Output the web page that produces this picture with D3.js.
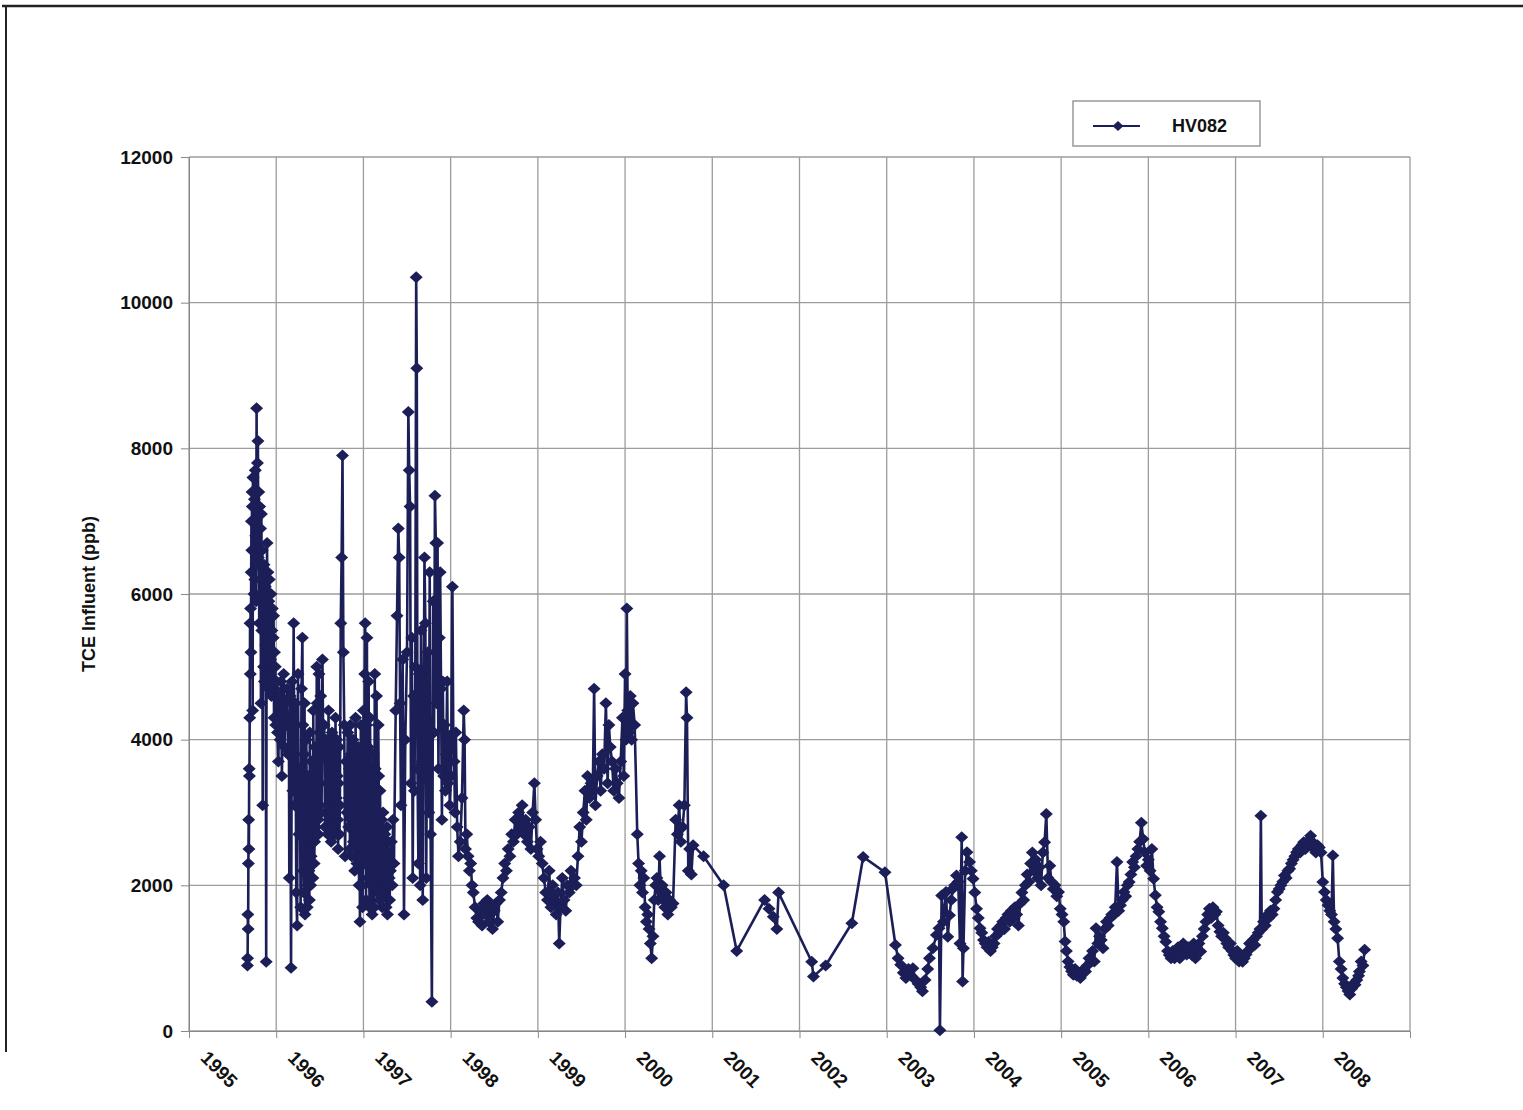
<!DOCTYPE html>
<html><head><meta charset="utf-8">
<script src="https://cdn.jsdelivr.net/npm/d3@7"></script>
<style>
body{margin:0;background:#fff;}
svg{display:block;font-family:"Liberation Sans",Arial,sans-serif;}
</style>
</head><body>
<svg id="chart" width="1523" height="1110"></svg>
<script>
const yearTicks = [1995,1996,1997,1998,1999,2000,2001,2002,2003,2004,2005,2006,2007,2008];
const valueTicks = [0,2000,4000,6000,8000,10000,12000];
const seriesName = "HV082";
const yAxisTitle = "TCE Influent (ppb)";

// [decimal year, TCE ppb]
const hv082 = [
[1995.670,900],[1995.672,1000],[1995.675,1600],[1995.678,1400],[1995.681,2300],[1995.684,2900],[1995.687,2500],[1995.690,3600],[1995.693,3500],[1995.696,4300],[1995.700,5600],[1995.703,4900],[1995.706,5800],[1995.710,5200],[1995.713,6300],[1995.716,7000],[1995.720,6600],[1995.723,7400],[1995.726,7200],[1995.730,4400],[1995.733,7600],[1995.740,7000],[1995.745,6000],[1995.750,7300],[1995.755,6200],[1995.760,7700],[1995.765,6800],[1995.770,5900],[1995.775,8550],[1995.780,6400],[1995.785,7800],[1995.790,8100],[1995.795,6500],[1995.800,7400],[1995.805,5600],[1995.810,7200],[1995.815,6000],[1995.820,6900],[1995.825,4500],[1995.830,7100],[1995.835,5500],[1995.840,6600],[1995.845,3100],[1995.850,6200],[1995.855,5000],[1995.860,6400],[1995.865,4800],[1995.870,5900],[1995.875,6100],[1995.880,5300],[1995.885,950],[1995.890,5700],[1995.895,6700],[1995.900,5200],[1995.905,6300],[1995.910,4700],[1995.915,5900],[1995.920,6200],[1995.925,4900],[1995.930,5800],[1995.935,5100],[1995.940,6000],[1995.945,4600],[1995.950,5500],[1995.955,5800],[1995.960,4800],[1995.965,5400],[1995.970,5700],[1995.975,4300],[1995.980,5200],[1995.985,4700],[1995.990,5000],[1995.995,4200],
[1996.005,4800],[1996.015,4100],[1996.025,3700],[1996.035,4600],[1996.045,4000],[1996.055,4800],[1996.065,3500],[1996.075,4400],[1996.085,4900],[1996.095,3900],[1996.105,4500],[1996.115,4200],[1996.125,4700],[1996.135,3800],[1996.145,4300],[1996.150,2100],[1996.160,4600],[1996.170,870],[1996.180,4800],[1996.190,3300],[1996.200,5600],[1996.210,3100],[1996.220,4500],[1996.230,1900],[1996.240,1450],[1996.250,4900],[1996.260,2700],[1996.270,3600],[1996.280,1700],[1996.290,4700],[1996.300,5400],[1996.310,2200],[1996.320,3800],[1996.330,1600],[1996.340,2500],[1996.350,3200],[1996.360,2000],[1996.370,2700],[1996.380,1800],[1996.390,3100],[1996.400,2400],[1996.410,2900],[1996.420,2100],[1996.430,3300],[1996.440,2600],[1996.450,3500],[1996.460,3200],[1996.470,4500],[1996.480,2900],[1996.490,4900],[1996.500,3100],[1996.510,4600],[1996.520,3000],[1996.530,5100],[1996.540,3800],[1996.550,4200],[1996.560,2800],[1996.570,4000],[1996.580,3400],[1996.590,2700],[1996.600,4400],[1996.610,3100],[1996.620,3700],[1996.630,2600],[1996.640,4100],[1996.650,3300],[1996.660,3600],[1996.670,2900],[1996.680,4300],[1996.690,3200],[1996.700,3500],[1996.710,2500],[1996.720,3900],[1996.730,3100],[1996.740,5600],[1996.750,6500],[1996.760,7900],[1996.770,5200],[1996.780,4200],[1996.790,2400],[1996.800,3700],[1996.810,3000],[1996.820,4100],[1996.830,2800],[1996.840,3600],[1996.850,4200],[1996.860,2900],[1996.870,3400],[1996.880,4000],[1996.890,3200],[1996.900,2200],[1996.910,4300],[1996.920,3500],[1996.930,2600],[1996.940,3900],[1996.950,2000],[1996.960,1500],[1996.970,4200],[1996.980,2500],[1996.990,1700],
[1997.000,4400],[1997.010,2300],[1997.020,5600],[1997.030,1800],[1997.040,5400],[1997.050,2100],[1997.060,4800],[1997.070,1700],[1997.080,3600],[1997.090,2400],[1997.100,1600],[1997.110,3800],[1997.120,2000],[1997.130,4900],[1997.140,2600],[1997.150,4600],[1997.160,1900],[1997.170,4200],[1997.180,2200],[1997.190,3300],[1997.200,1800],[1997.210,2900],[1997.220,2100],[1997.230,2500],[1997.240,1900],[1997.250,2300],[1997.260,1700],[1997.270,2800],[1997.280,2000],[1997.290,2400],[1997.300,1800],[1997.310,2200],[1997.320,2600],[1997.330,2000],[1997.340,2900],[1997.350,2300],[1997.370,4400],[1997.385,5700],[1997.400,6900],[1997.410,6500],[1997.420,4500],[1997.430,3100],[1997.450,5100],[1997.465,1600],[1997.480,4000],[1997.500,5200],[1997.515,8500],[1997.525,7700],[1997.535,7200],[1997.545,3400],[1997.555,5400],[1997.565,2100],[1997.575,4600],[1997.585,3300],[1997.595,5000],[1997.605,10350],[1997.612,9100],[1997.620,3600],[1997.630,2300],[1997.640,4900],[1997.650,2000],[1997.660,5500],[1997.670,3700],[1997.680,1800],[1997.690,4400],[1997.700,6500],[1997.710,5600],[1997.720,2100],[1997.730,4300],[1997.740,5200],[1997.750,3000],[1997.760,6300],[1997.770,2700],[1997.785,400],[1997.800,5900],[1997.810,4100],[1997.820,7350],[1997.830,6700],[1997.840,4500],[1997.850,6700],[1997.860,3600],[1997.870,5400],[1997.880,6300],[1997.890,4700],[1997.900,2900],[1997.910,4800],[1997.920,3500],[1997.930,4200],[1997.940,3300],[1997.950,3800],[1997.960,4800],[1997.970,3400],[1997.980,4000],[1997.990,3100],
[1998.005,3500],[1998.020,6100],[1998.030,4100],[1998.040,3700],[1998.050,3000],[1998.060,4100],[1998.075,2800],[1998.090,2400],[1998.110,2600],[1998.130,3200],[1998.150,4400],[1998.160,4000],[1998.170,2500],[1998.185,2700],[1998.200,2400],[1998.215,2200],[1998.230,2300],[1998.245,2000],[1998.260,1900],[1998.280,1700],[1998.300,1550],[1998.320,1500],[1998.340,1650],[1998.360,1450],[1998.380,1750],[1998.400,1600],[1998.420,1800],[1998.440,1500],[1998.460,1700],[1998.480,1400],[1998.500,1650],[1998.520,1750],[1998.540,1500],[1998.560,1800],[1998.580,1900],[1998.600,2100],[1998.620,2300],[1998.640,2200],[1998.660,2500],[1998.680,2400],[1998.700,2700],[1998.720,2600],[1998.740,2900],[1998.760,2700],[1998.780,3000],[1998.800,2800],[1998.820,3100],[1998.840,2700],[1998.860,2900],[1998.880,2600],[1998.900,2800],[1998.920,2500],[1998.940,3000],[1998.960,3400],[1998.975,2900],[1998.990,2500],
[1999.010,2400],[1999.030,2600],[1999.050,2300],[1999.070,2100],[1999.090,1900],[1999.110,1800],[1999.130,2200],[1999.150,1700],[1999.170,2000],[1999.190,1800],[1999.210,1600],[1999.230,1900],[1999.245,1200],[1999.260,1700],[1999.280,2100],[1999.300,1800],[1999.320,1650],[1999.340,2000],[1999.360,1900],[1999.380,2200],[1999.400,2000],[1999.420,2100],[1999.440,2000],[1999.460,2400],[1999.480,2800],[1999.500,2600],[1999.520,3000],[1999.540,3300],[1999.555,2900],[1999.570,3500],[1999.590,3200],[1999.610,3400],[1999.630,3300],[1999.645,4700],[1999.660,3100],[1999.680,3500],[1999.700,3700],[1999.720,3300],[1999.740,3800],[1999.760,3600],[1999.780,4500],[1999.800,3400],[1999.815,4200],[1999.830,3900],[1999.850,3700],[1999.870,3300],[1999.890,3600],[1999.910,3400],[1999.930,3200],[1999.950,3700],[1999.970,4300],[1999.985,3500],
[2000.000,4900],[2000.010,4000],[2000.020,5800],[2000.030,4400],[2000.045,4100],[2000.060,4600],[2000.075,4000],[2000.090,4500],[2000.110,4200],[2000.140,2700],[2000.155,2300],[2000.170,2000],[2000.185,2200],[2000.200,1900],[2000.215,2100],[2000.230,1700],[2000.245,1500],[2000.260,1600],[2000.275,1400],[2000.290,1200],[2000.305,1000],[2000.320,1300],[2000.335,1800],[2000.350,2000],[2000.365,2100],[2000.380,1800],[2000.395,2400],[2000.410,1900],[2000.425,2000],[2000.440,1800],[2000.455,1700],[2000.470,1900],[2000.490,1600],[2000.510,1800],[2000.530,1700],[2000.550,1750],[2000.580,2900],[2000.600,2700],[2000.620,3100],[2000.640,2600],[2000.660,2800],[2000.680,3100],[2000.700,4650],[2000.710,4300],[2000.725,2200],[2000.740,2500],[2000.760,2150],[2000.780,2550],[2000.900,2400],
[2001.130,2000],[2001.280,1100],[2001.600,1800],[2001.650,1680],[2001.700,1570],[2001.740,1400],[2001.760,1900],
[2002.140,950],[2002.160,750],[2002.300,900],[2002.600,1480],[2002.730,2390],[2002.980,2180],
[2003.100,1180],[2003.130,1000],[2003.160,910],[2003.190,800],[2003.220,727],[2003.250,850],[2003.280,760],[2003.300,860],[2003.330,700],[2003.360,650],[2003.390,600],[2003.410,545],[2003.440,700],[2003.470,850],[2003.490,1000],[2003.530,1136],[2003.570,1318],[2003.600,1410],[2003.610,10],[2003.630,1860],[2003.650,1500],[2003.680,1910],[2003.700,1295],[2003.720,1590],[2003.740,1800],[2003.760,1955],[2003.780,2000],[2003.800,2136],[2003.820,2050],[2003.840,1200],[2003.860,2660],[2003.870,680],[2003.880,1136],[2003.900,2200],[2003.920,2455],[2003.950,2320],[2003.970,2200],[2003.990,2090],
[2004.010,1900],[2004.030,1680],[2004.050,1550],[2004.070,1410],[2004.090,1350],[2004.110,1250],[2004.130,1200],[2004.150,1150],[2004.170,1227],[2004.190,1100],[2004.210,1150],[2004.230,1200],[2004.250,1300],[2004.270,1400],[2004.290,1350],[2004.310,1450],[2004.330,1500],[2004.350,1400],[2004.370,1550],[2004.390,1600],[2004.410,1500],[2004.430,1650],[2004.450,1550],[2004.470,1700],[2004.490,1600],[2004.510,1450],[2004.530,1750],[2004.550,1900],[2004.570,1800],[2004.590,2000],[2004.610,2150],[2004.630,2050],[2004.650,2300],[2004.670,2450],[2004.690,2200],[2004.710,2350],[2004.730,2100],[2004.750,2250],[2004.770,2000],[2004.790,2450],[2004.810,2590],[2004.830,2980],[2004.850,2100],[2004.870,2270],[2004.890,2045],[2004.910,1950],[2004.930,2000],[2004.950,1850],[2004.970,1910],[2004.990,1680],
[2005.010,1600],[2005.030,1500],[2005.045,1230],[2005.060,1100],[2005.080,955],[2005.100,880],[2005.120,820],[2005.140,773],[2005.160,850],[2005.180,760],[2005.200,800],[2005.220,727],[2005.240,780],[2005.260,850],[2005.280,818],[2005.300,900],[2005.320,1000],[2005.340,950],[2005.360,1100],[2005.380,955],[2005.400,1410],[2005.420,1200],[2005.440,1300],[2005.460,1250],[2005.480,1136],[2005.500,1400],[2005.520,1500],[2005.540,1450],[2005.560,1550],[2005.580,1600],[2005.600,1590],[2005.620,1700],[2005.640,2320],[2005.660,1650],[2005.680,1727],[2005.700,1800],[2005.720,1910],[2005.740,1850],[2005.760,2000],[2005.780,2045],[2005.800,2150],[2005.820,2320],[2005.840,2250],[2005.860,2400],[2005.880,2500],[2005.900,2600],[2005.920,2860],[2005.940,2636],[2005.960,2450],[2005.980,2270],
[2006.000,2350],[2006.020,2200],[2006.040,2500],[2006.060,2090],[2006.080,1864],[2006.100,1700],[2006.120,1636],[2006.140,1500],[2006.160,1410],[2006.180,1300],[2006.200,1227],[2006.220,1100],[2006.240,1045],[2006.260,1000],[2006.280,1100],[2006.300,1000],[2006.320,1050],[2006.340,1150],[2006.360,1000],[2006.380,1100],[2006.400,1200],[2006.420,1136],[2006.440,1050],[2006.460,1150],[2006.480,1100],[2006.500,1045],[2006.520,1200],[2006.540,1000],[2006.560,1100],[2006.580,1200],[2006.600,1090],[2006.620,1300],[2006.640,1400],[2006.660,1500],[2006.680,1600],[2006.700,1680],[2006.720,1550],[2006.740,1700],[2006.760,1600],[2006.780,1636],[2006.800,1450],[2006.820,1364],[2006.840,1300],[2006.860,1350],[2006.880,1273],[2006.900,1200],[2006.920,1150],[2006.940,1200],[2006.960,1100],[2006.980,1045],
[2007.000,1000],[2007.020,1100],[2007.040,955],[2007.060,1000],[2007.080,950],[2007.100,1000],[2007.120,1050],[2007.140,1100],[2007.160,1200],[2007.180,1150],[2007.200,1250],[2007.220,1180],[2007.240,1300],[2007.260,1350],[2007.280,1400],[2007.290,2955],[2007.300,1400],[2007.320,1500],[2007.340,1450],[2007.360,1590],[2007.380,1550],[2007.400,1650],[2007.420,1600],[2007.440,1680],[2007.460,1800],[2007.480,1910],[2007.500,1950],[2007.520,2000],[2007.540,2050],[2007.560,2136],[2007.580,2100],[2007.600,2200],[2007.620,2227],[2007.640,2300],[2007.660,2350],[2007.680,2400],[2007.700,2455],[2007.720,2500],[2007.740,2450],[2007.760,2550],[2007.780,2590],[2007.800,2500],[2007.820,2600],[2007.840,2550],[2007.860,2680],[2007.880,2600],[2007.900,2500],[2007.920,2450],[2007.940,2550],[2007.960,2520],[2007.980,2450],
[2008.000,2045],[2008.020,1910],[2008.040,1800],[2008.060,1727],[2008.080,1650],[2008.100,1600],[2008.115,2410],[2008.130,1500],[2008.150,1400],[2008.170,1273],[2008.190,955],[2008.210,850],[2008.230,727],[2008.250,650],[2008.270,600],[2008.290,550],[2008.310,500],[2008.330,580],[2008.350,650],[2008.370,636],[2008.390,700],[2008.410,760],[2008.420,818],[2008.440,955],[2008.460,900],[2008.480,1114]
];

// extra samples in the densest 1996-1997 stretches
const hv082Dense = [
[1996.305,4200],[1996.315,1900],[1996.325,4500],[1996.335,2300],[1996.345,4000],[1996.355,1700],[1996.365,3500],[1996.375,2200],[1996.385,4100],[1996.395,2000],[1996.405,3700],[1996.415,2600],[1996.425,4400],[1996.435,2300],[1996.445,3900],[1996.455,2800],[1996.465,5000],[1996.475,3400],[1996.485,2700],[1996.495,4100],
[1996.605,2900],[1996.615,4000],[1996.625,3000],[1996.635,3500],[1996.645,2800],[1996.655,3900],[1996.665,2700],[1996.675,3400],[1996.685,2700],[1996.695,4000],[1996.705,2900],[1996.715,3400],[1996.725,2700],
[1996.835,3200],[1996.845,2500],[1996.855,3800],[1996.865,2400],[1996.875,3700],[1996.885,2600],[1996.895,3600],[1996.905,2800],[1996.915,3300],[1996.925,2300],[1996.935,3600],[1996.945,2700],[1996.955,3100],[1996.965,2400],[1996.975,3400],[1996.985,2000],[1996.995,3000],
[1997.005,3000],[1997.015,4900],[1997.025,2600],[1997.035,4200],[1997.045,3000],[1997.055,3900],[1997.065,2500],[1997.075,4300],[1997.085,2000],[1997.095,3400],[1997.105,2200],[1997.115,3000],[1997.125,1700],[1997.135,3600],[1997.145,2100],[1997.155,3300],[1997.165,2500],[1997.175,3500],[1997.185,1800],[1997.195,2700],[1997.205,2400],[1997.215,1700],[1997.225,3000],[1997.235,2200],[1997.245,2700],[1997.255,2000],[1997.265,2400],[1997.275,1600],[1997.285,2600],[1997.295,2100]
];

const samples = d3.sort(hv082.concat(hv082Dense), d => d[0]);

const navy = "#1c1e58";
const gridColor = "#9c9c9c";
const svg = d3.select("#chart");

// page frame
svg.append("line").attr("x1",2).attr("x2",1523).attr("y1",6).attr("y2",6).attr("stroke","#222").attr("stroke-width",2.5);
svg.append("line").attr("x1",6).attr("x2",6).attr("y1",6).attr("y2",1052).attr("stroke","#222").attr("stroke-width",2);

const x = d3.scaleLinear().domain([1995,2009]).range([189,1410]);
const y = d3.scaleLinear().domain([0,12000]).range([1031,157]);

// gridlines
const grid = svg.append("g");
grid.selectAll("line.v").data(yearTicks.concat([2009])).join("line")
  .attr("x1",d=>x(d)).attr("x2",d=>x(d)).attr("y1",y(12000)).attr("y2",y(0))
  .attr("stroke",gridColor).attr("stroke-width",1.3);
grid.selectAll("line.h").data(valueTicks).join("line")
  .attr("x1",x(1995)).attr("x2",x(2009)).attr("y1",d=>y(d)).attr("y2",d=>y(d))
  .attr("stroke",gridColor).attr("stroke-width",1.3);

// axes
const yAxis = svg.append("g").attr("transform",`translate(${x(1995)},0)`)
  .call(d3.axisLeft(y).tickValues(valueTicks).tickSize(8).tickPadding(8).tickFormat(d3.format("d")));
yAxis.selectAll("text").attr("font-size",19).attr("font-weight","bold").attr("fill","#111")
  .attr("font-family","'Liberation Sans',Arial,sans-serif");
yAxis.selectAll("line,path").attr("stroke","#888");

const xAxis = svg.append("g").attr("transform",`translate(0,${y(0)})`)
  .call(d3.axisBottom(x).tickValues(yearTicks).tickSize(7).tickFormat(d3.format("d")));
xAxis.selectAll("text").attr("font-size",19).attr("font-weight","bold").attr("fill","#111")
  .attr("font-family","'Liberation Sans',Arial,sans-serif")
  .attr("x",0).attr("y",0).attr("dy",0).attr("text-anchor","start")
  .attr("transform","translate(10,28) rotate(45)");
xAxis.selectAll("line,path").attr("stroke","#888");

// y title
svg.append("text").attr("transform",`translate(95,${(y(0)+y(12000))/2}) rotate(-90)`)
  .attr("text-anchor","middle").attr("font-size",18).attr("font-weight","bold").attr("fill","#111")
  .text(yAxisTitle);

// series
const line = d3.line().x(d=>x(d[0])).y(d=>y(d[1]));
svg.append("path").datum(samples).attr("d",line).attr("fill","none")
  .attr("stroke",navy).attr("stroke-width",2.6).attr("stroke-linejoin","round");

const diamond = "M0,-6L6.5,0L0,6L-6.5,0Z";
svg.append("g").selectAll("path").data(samples).join("path")
  .attr("d",diamond).attr("transform",d=>`translate(${x(d[0])},${y(d[1])})`)
  .attr("fill",navy);

// legend
const lg = svg.append("g").attr("transform","translate(1073,101)");
lg.append("rect").attr("width",187).attr("height",45).attr("fill","#fff").attr("stroke","#999").attr("stroke-width",1.5);
lg.append("line").attr("x1",20).attr("x2",67).attr("y1",25).attr("y2",25).attr("stroke",navy).attr("stroke-width",2);
lg.append("path").attr("d","M0,-5L5.5,0L0,5L-5.5,0Z").attr("transform","translate(45,25)").attr("fill",navy);
lg.append("text").attr("x",99).attr("y",31).attr("font-size",18).attr("font-weight","bold").attr("fill","#111").text(seriesName);
</script>
</body></html>
